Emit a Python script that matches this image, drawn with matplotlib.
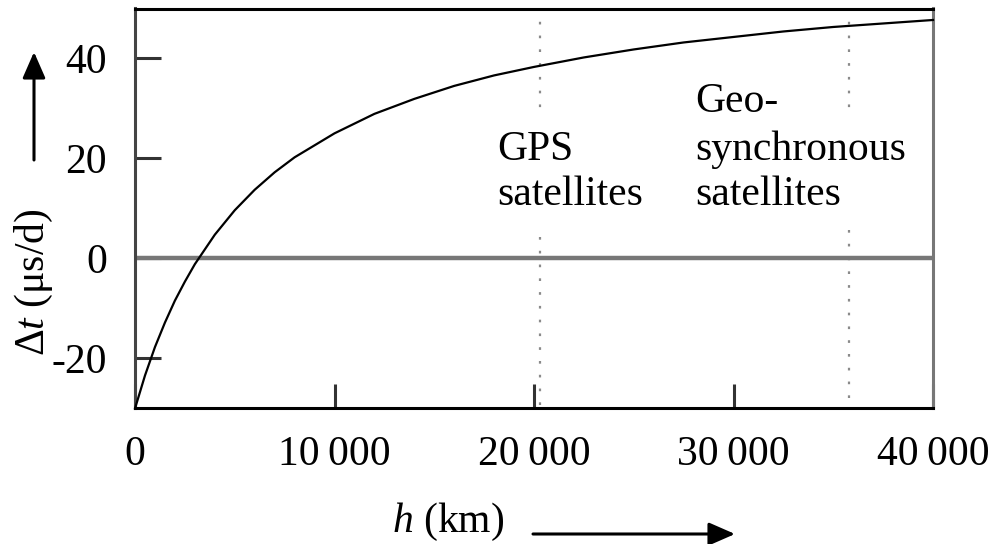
import matplotlib
matplotlib.use("Agg")
import matplotlib.pyplot as plt

# ---- data ----
h_km = [0, 500, 1000, 1500, 2000, 2500, 3000, 4000, 5000, 6000, 7000, 8000,
        10000, 12000, 14000, 16000, 18000, 20000, 22500, 25000, 27500, 30000,
        32500, 35000, 37500, 40000]
dt_us_per_day = [-30.1, -23.5, -17.8, -12.9, -8.5, -4.7, -1.2, 4.7, 9.6, 13.7,
                 17.2, 20.2, 25.0, 28.9, 31.9, 34.5, 36.6, 38.3, 40.2, 41.8,
                 43.2, 44.3, 45.4, 46.3, 47.0, 47.7]

gps_altitude = 20300
geo_altitude = 35800

x_ticks = [0, 10000, 20000, 30000, 40000]
x_tick_labels = ["0", "10\u2009000", "20\u2009000", "30\u2009000", "40\u2009000"]
y_ticks = [-20, 0, 20, 40]
y_tick_labels = ["-20", "0", "20", "40"]

plt.rcParams['font.family'] = ['Liberation Serif', 'DejaVu Serif']
plt.rcParams['mathtext.fontset'] = 'custom'
plt.rcParams['mathtext.rm'] = 'Liberation Serif'
plt.rcParams['mathtext.it'] = 'Liberation Serif:italic'

FS = 30
W, H = 995, 544
fig = plt.figure(figsize=(W / 100, H / 100), dpi=100)
ax = fig.add_axes([135 / W, 1 - 408 / H, (933 - 135) / W, (408 - 8.5) / H])

ax.set_xlim(0, 40000)
ax.set_ylim(-30, 50)

# zero line
ax.axhline(0, color='#777777', lw=3.2, zorder=2)

# dotted satellite lines (broken around the labels)
dot_kw = dict(color='#8a8a8a', lw=1.6, linestyle=(0, (1.2, 5)), zorder=1)
ax.plot([gps_altitude, gps_altitude], [50, 29.8], **dot_kw)
ax.plot([gps_altitude, gps_altitude], [4.2, -30], **dot_kw)
ax.plot([geo_altitude, geo_altitude], [50, 29.2], **dot_kw)
ax.plot([geo_altitude, geo_altitude], [5.6, -30], **dot_kw)

# curve
ax.plot(h_km, dt_us_per_day, color='black', lw=1.6, zorder=3, clip_on=False)

# labels in plot
ax.text(18150, 19.7, "GPS", fontsize=FS, ha='left', va='baseline')
ax.text(18150, 10.7, "satellites", fontsize=FS, ha='left', va='baseline')
ax.text(28070, 29.2, "Geo-", fontsize=FS, ha='left', va='baseline')
ax.text(28070, 19.7, "synchronous", fontsize=FS, ha='left', va='baseline')
ax.text(28070, 10.7, "satellites", fontsize=FS, ha='left', va='baseline')

# spines
ax.spines['top'].set_color('black')
ax.spines['bottom'].set_color('black')
ax.spines['left'].set_color('#444444')
ax.spines['right'].set_color('#777777')
for s in ax.spines.values():
    s.set_linewidth(2.2)

ax.set_xticks(x_ticks)
ax.set_xticklabels(x_tick_labels)
ax.set_yticks(y_ticks)
ax.set_yticklabels(y_tick_labels)
ax.tick_params(axis='x', direction='in', length=17, width=2.2, color='#333333',
               labelsize=FS, pad=20)
ax.tick_params(axis='y', direction='in', length=19, width=2.2, color='#333333',
               labelsize=FS, pad=20)

# axis labels with arrows
fig.text(34 / W, 1 - 282 / H, "\u0394$t$ (\u03bcs/d)", rotation=90, fontsize=FS,
         ha='center', va='center')
fig.text(448 / W, 1 - 522 / H, "$h$ (km)", fontsize=FS, ha='center', va='center')

arrow_kw = dict(arrowstyle='-|>,head_length=0.8,head_width=0.35', color='black', lw=2.2,
                shrinkA=0, shrinkB=0)
fig.add_artist(matplotlib.patches.FancyArrowPatch(
    (34 / W, 1 - 160 / H), (34 / W, 1 - 52 / H), transform=fig.transFigure,
    mutation_scale=20, **arrow_kw))
fig.add_artist(matplotlib.patches.FancyArrowPatch(
    (533 / W, 1 - 534 / H), (735 / W, 1 - 534 / H), transform=fig.transFigure,
    mutation_scale=20, **arrow_kw))

fig.savefig("out.png", dpi=100)
